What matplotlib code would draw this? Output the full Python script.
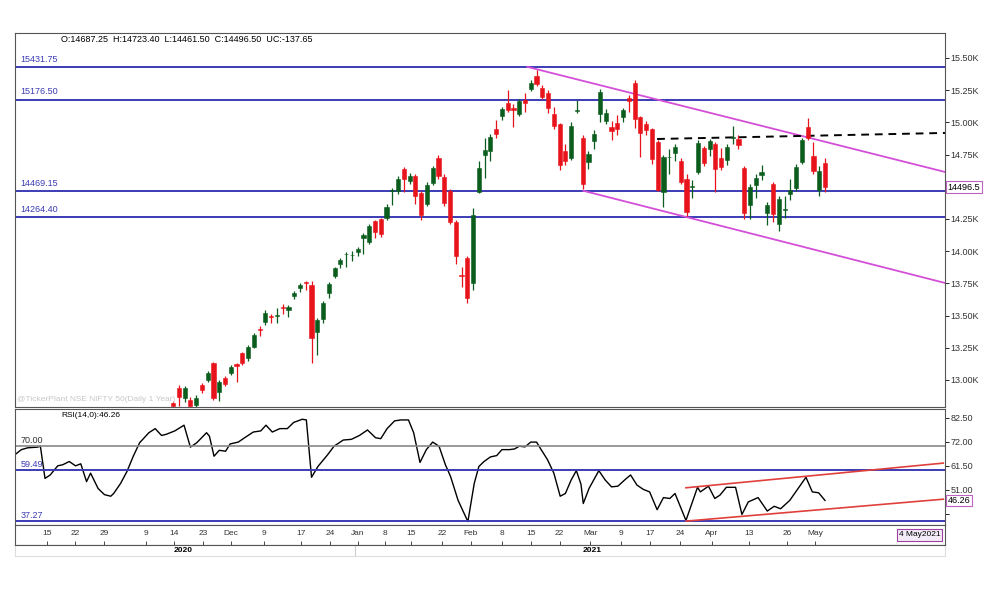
import matplotlib
matplotlib.use("Agg")
import matplotlib.pyplot as plt
import numpy as np

# daily candles, NIFTY 50 (index 0 = first visible candle)
opens = [12820, 12936, 12858, 12845, 12806, 12961, 13000, 13130, 12909, 13013,
         13052, 13122, 13207, 13168, 13259, 13398, 13453, 13497, 13500, 13569,
         13543, 13655, 13712, 13758, 13738, 13375, 13471, 13673, 13807, 13901,
         13975, 13968, 13996, 14100, 14069, 14234, 14248, 14255, 14466, 14470,
         14636, 14547, 14586, 14450, 14366, 14532, 14721, 14578, 14467, 14229,
         13815, 13945, 13751, 14462, 14747, 14780, 14946, 15052, 15148, 15112,
         15063, 15176, 15259, 15363, 15269, 15230, 15065, 14988, 14781, 14721,
         15085, 14877, 14695, 14858, 15063, 15014, 14967, 14993, 15039, 15189,
         15304, 15039, 14988, 14946, 14846, 14462, 14728, 14760, 14700, 14561,
         14498, 14617, 14799, 14791, 14830, 14726, 14708, 14875, 14869, 14644,
         14359, 14514, 14592, 14294, 14519, 14209, 14320, 14442, 14488, 14695,
         14967, 14739, 14475, 14687.25]
closes = [12795, 12870, 12936, 12795, 12858, 12922, 13052, 12858, 12987, 12969,
          13104, 13110, 13130, 13259, 13350, 13390, 13522, 13487, 13508, 13557,
          13564, 13678, 13738, 13751, 13323, 13466, 13595, 13745, 13867, 13932,
          13980, 13974, 14015, 14126, 14196, 14147, 14133, 14341, 14474, 14558,
          14558, 14586, 14431, 14281, 14514, 14644, 14586, 14372, 14229, 13963,
          13805, 13634, 14281, 14644, 14786, 14889, 14910, 15104, 15096, 15096,
          15169, 15153, 15304, 15298, 15200, 15109, 14972, 14669, 14703, 14972,
          15093, 14519, 14755, 14910, 15234, 15071, 14933, 14946, 15096, 15169,
          15024, 14920, 14941, 14714, 14475, 14734, 14734, 14807, 14540, 14302,
          14505, 14838, 14683, 14858, 14638, 14651, 14812, 14885, 14825, 14300,
          14501, 14571, 14613, 14359, 14289, 14403, 14330, 14475, 14656, 14863,
          14877, 14623, 14625, 14496.5]
highs = [12835, 12960, 12950, 12870, 12885, 12975, 13070, 13142, 13000, 13030,
         13118, 13130, 13220, 13272, 13362, 13420, 13540, 13515, 13560, 13590,
         13580, 13690, 13755, 13770, 13771, 13480, 13610, 13760, 13880, 13950,
         13995, 14000, 14030, 14140, 14210, 14245, 14260, 14365, 14490, 14580,
         14650, 14610, 14600, 14470, 14540, 14660, 14745, 14600, 14480, 14240,
         13880, 13960, 14333, 14700, 14880, 14910, 15019, 15120, 15252, 15140,
         15180, 15230, 15330, 15407, 15290, 15250, 15120, 14995, 14830, 15000,
         15170, 14900, 14775, 14940, 15260, 15100, 15010, 15060, 15115, 15210,
         15329, 15050, 15010, 14960, 14860, 14750, 14790, 14830, 14720, 14600,
         14550, 14860, 14820, 14870, 14850, 14800, 14830, 14970, 14900, 14660,
         14520, 14600, 14670, 14380, 14540, 14430, 14430, 14560, 14675, 14880,
         15034, 14850, 14660, 14723.4]
lows = [12780, 12795, 12830, 12780, 12790, 12897, 12985, 12845, 12840, 12950,
        13035, 12985, 13115, 13150, 13245, 13340, 13430, 13440, 13440, 13510,
        13490, 13630, 13680, 13700, 13132, 13194, 13440, 13640, 13790, 13870,
        13880, 13925, 13965, 13980, 14055, 14100, 14110, 14240, 14360, 14440,
        14460, 14520, 14370, 14245, 14350, 14510, 14560, 14350, 14210, 13900,
        13720, 13600, 13700, 14450, 14570, 14700, 14880, 15020, 15080, 14967,
        15050, 15080, 15240, 15280, 15180, 15070, 14950, 14630, 14670, 14710,
        15070, 14480, 14640, 14790, 15000, 14990, 14860, 14900, 15000, 15080,
        14960, 14735, 14900, 14680, 14470, 14345, 14600, 14700, 14520, 14270,
        14410, 14600, 14660, 14740, 14460, 14630, 14670, 14830, 14790, 14250,
        14250, 14410, 14550, 14200, 14230, 14160, 14260, 14400, 14470, 14680,
        14860, 14600, 14430, 14461.5]

# RSI(14) readings: day index and value
rsi_day = [-27.4, -26.3, -25.2, -23.5, -23.0, -22.2, -21.3, -20.0, -19.1, -18.0,
           -16.9, -16.0, -15.0, -14.3, -13.0, -11.9, -10.8, -10.3, -9.1, -8.0,
           -6.9, -5.8, -4.2, -3.1, -2.0, -1.2, 0.3, 1.9, 3.0, 4.1,
           5.8, 6.3, 7.1, 8.0, 9.1, 9.9, 11.3, 12.4, 13.9, 15.2,
           16.1, 17.2, 18.5, 19.8, 20.9, 22.4, 23.1, 24.0, 25.1, 26.8,
           27.9, 29.5, 30.9, 32.3, 33.7, 35.1, 36.0, 37.1, 38.4, 39.5,
           40.8, 41.7, 42.8, 43.9, 45.0, 46.1, 47.2, 48.1, 49.4, 51.1,
           52.2, 53.0, 53.9, 55.0, 56.1, 57.0, 58.3, 59.2, 60.0, 61.0,
           62.0, 63.0, 63.8, 64.9, 66.0, 67.1, 68.0, 69.0, 69.9, 70.7,
           71.1, 72.1, 73.8, 74.9, 76.0, 77.1, 78.4, 79.3, 80.4, 81.5,
           82.6, 83.9, 85.0, 86.1, 87.0, 88.9, 90.9, 91.4, 92.8, 93.9,
           94.8, 95.9, 97.5, 98.6, 99.7, 101.4, 103.0, 104.2, 105.3, 106.9,
           109.7, 110.8, 111.9, 113.0]
rsi_val = [66.3, 68.5, 69.3, 69.6, 70.0, 55.9, 57.4, 61.4, 61.9, 63.3,
           61.4, 62.3, 54.5, 58.2, 51.5, 48.8, 48.1, 49.3, 53.7, 58.9,
           65.6, 71.5, 75.9, 77.7, 74.7, 75.2, 76.7, 79.2, 69.6, 71.5,
           75.9, 74.4, 65.6, 68.2, 67.8, 71.0, 71.8, 73.7, 76.2, 76.7,
           79.2, 76.2, 77.7, 77.7, 80.4, 81.8, 81.5, 56.4, 61.1, 66.3,
           70.0, 72.7, 73.0, 74.7, 77.1, 73.7, 73.3, 77.7, 81.1, 81.5,
           81.5, 75.9, 62.9, 68.5, 71.8, 70.0, 61.9, 56.7, 46.3, 37.0,
           53.7, 61.1, 63.3, 65.3, 65.9, 68.5, 68.5, 68.8, 70.0, 69.7,
           71.8, 71.8, 68.5, 64.1, 58.2, 48.1, 49.3, 55.2, 59.3, 53.4,
           44.9, 51.5, 59.3, 55.2, 52.2, 52.5, 55.5, 57.4, 53.0, 51.1,
           50.0, 42.2, 47.5, 47.1, 49.3, 37.5, 52.0, 50.0, 52.5, 47.1,
           48.6, 52.0, 52.0, 40.1, 45.6, 47.5, 41.6, 43.7, 42.6, 46.3,
           56.4, 50.0, 49.6, 46.26]

price_levels = [15431.75, 15176.50, 14469.15, 14264.40]
rsi_levels = [59.49, 37.27]
upper_channel = ([61.4, 133.8], [15431, 14615])
lower_channel = ([71.1, 133.8], [14469, 13753])
neck_line = ([83.9, 133.8], [14871, 14918])
rsi_upper = ([88.9, 133.5], [51.8, 62.6])
rsi_lower = ([88.9, 133.5], [37.2, 46.8])

tick_pos = [-21.8, -17.0, -12.0, -4.7, 0.2, 5.2, 10.0, 15.8, 22.2, 27.2, 32.0, 36.7, 41.2,
            46.6, 51.6, 57.0, 62.0, 67.0, 72.3, 77.6, 82.7, 87.9, 93.4, 99.8, 106.4, 111.3]
tick_labels = ["15", "22", "29", "9", "14", "23", "Dec", "9", "17", "24", "Jan", "8", "15",
               "22", "Feb", "8", "15", "22", "Mar", "9", "17", "24", "Apr", "13", "26", "May"]
price_ticks = [13000, 13250, 13500, 13750, 14000, 14250, 14500, 14750, 15000, 15250, 15500]
rsi_ticks = [82.5, 72.0, 61.5, 51.0, 40.5]

XMIN, XMAX = -27.4, 133.8
BLUE = "#3b3bb5"
MAGENTA = "#d44fd8"
UP = "#0b5d1e"
DOWN = "#e8141c"

plt.rcParams["font.family"] = ["Liberation Sans", "DejaVu Sans"]
fig = plt.figure(figsize=(10, 6), dpi=100)
ax = fig.add_axes([0.015, 0.3217, 0.93, 0.6233])
ax_rsi = fig.add_axes([0.015, 0.125, 0.93, 0.193])
ax_date = fig.add_axes([0.015, 0.0917, 0.93, 0.0333])
ax_year = fig.add_axes([0.015, 0.0733, 0.93, 0.0184])

# --- price panel ---
idx = np.arange(len(opens))
o = np.array(opens); c = np.array(closes)
colors = np.where(c >= o, UP, DOWN)
ax.vlines(idx, lows, highs, colors=colors, linewidth=0.9, zorder=3)
ax.bar(idx, np.maximum(np.abs(c - o), 6), bottom=np.minimum(o, c), width=0.72,
       color=colors, edgecolor=colors, linewidth=0.4, zorder=4)
for lv in price_levels:
    ax.axhline(lv, color=BLUE, linewidth=1.4, zorder=2)
    ax.text(XMIN + 1, lv + 25, f"{lv:.2f}", color=BLUE, fontsize=6.5, va="bottom")
ax.plot(*upper_channel, color=MAGENTA, linewidth=1.3, zorder=2)
ax.plot(*lower_channel, color=MAGENTA, linewidth=1.3, zorder=2)
ax.plot(*neck_line, color="black", linewidth=1.4, linestyle=(0, (4, 3)), zorder=2)
ax.set_xlim(XMIN, XMAX)
ax.set_ylim(12790, 15694)
ax.set_xticks([])
ax.yaxis.tick_right()
ax.set_yticks(price_ticks)
# 14.50K label sits under the last-price box, as on the terminal
ax.set_yticklabels(["" if t == 14500 else f"{t / 1000:.2f}K" for t in price_ticks],
                   fontsize=6.5, color="#333333")
ax.tick_params(axis="y", length=3, width=0.6, pad=1)
ax.text(XMIN + 8, 15640, "O:14687.25  H:14723.40  L:14461.50  C:14496.50  UC:-137.65",
        fontsize=6.5, va="center")
ax.text(XMIN + 0.3, 12850, "@TickerPlant NSE NIFTY 50(Daily 1 Year)", fontsize=6,
        color="#c8c8c8", va="center")
ax.text(1.003, (14496.5 - 12790) / (15694 - 12790), "14496.5", transform=ax.transAxes,
        fontsize=6.5, va="center", ha="left",
        bbox=dict(boxstyle="square,pad=0.15", fc="white", ec="#c060c0", lw=0.8))

# --- RSI panel ---
ax_rsi.plot(rsi_day, rsi_val, color="black", linewidth=1.0)
ax_rsi.axhline(70, color="#888888", linewidth=1.2)
ax_rsi.text(XMIN + 1, 70.6, "70.00", color="#333333", fontsize=6.5, va="bottom")
for lv in rsi_levels:
    ax_rsi.axhline(lv, color=BLUE, linewidth=1.4)
    ax_rsi.text(XMIN + 1, lv + 0.6, f"{lv:.2f}", color=BLUE, fontsize=6.5, va="bottom")
ax_rsi.plot(*rsi_upper, color="#e0403c", linewidth=1.2)
ax_rsi.plot(*rsi_lower, color="#e0403c", linewidth=1.2)
ax_rsi.set_xlim(XMIN, XMAX)
ax_rsi.set_ylim(35.5, 86.2)
ax_rsi.set_xticks([])
ax_rsi.yaxis.tick_right()
ax_rsi.set_yticks(rsi_ticks)
ax_rsi.set_yticklabels(["" if t == 40.5 else f"{t:.2f}" for t in rsi_ticks],
                       fontsize=6.5, color="#333333")
ax_rsi.tick_params(axis="y", length=3, width=0.6, pad=1)
ax_rsi.text(XMIN + 8, 83.5, "RSI(14,0):46.26", fontsize=6, va="center")
ax_rsi.text(1.003, (46.26 - 35.5) / (86.2 - 35.5), "46.26", transform=ax_rsi.transAxes,
            fontsize=6.5, va="center", ha="left",
            bbox=dict(boxstyle="square,pad=0.15", fc="white", ec="#c060c0", lw=0.8))

# --- date strip ---
ax_date.set_xlim(XMIN, XMAX)
ax_date.set_ylim(0, 1)
ax_date.set_yticks([])
ax_date.set_xticks(tick_pos)
ax_date.set_xticklabels(tick_labels, fontsize=6, color="#333333")
ax_date.tick_params(axis="x", direction="in", pad=-11, length=3, width=0.5)
ax_date.text(0.995, 0.5, "4 May2021", transform=ax_date.transAxes, fontsize=6,
             ha="right", va="center",
             bbox=dict(boxstyle="square,pad=0.25", fc="#f4ecf8", ec="#a040a0", lw=0.8))

ax_year.set_xlim(XMIN, XMAX)
ax_year.set_ylim(0, 1)
ax_year.set_xticks([])
ax_year.set_yticks([])
ax_year.axvline(31.5, color="#cccccc", linewidth=0.8)
ax_year.text(1.7, 0.5, "2020", fontsize=6, ha="center", va="center", fontweight="bold")
ax_year.text(72.6, 0.5, "2021", fontsize=6, ha="center", va="center", fontweight="bold")

for a in (ax, ax_rsi, ax_date, ax_year):
    for s in a.spines.values():
        s.set_color("#555555")
        s.set_linewidth(0.8)
for s in ("left", "right", "bottom"):
    ax_year.spines[s].set_color("#dddddd")

fig.savefig("out.png", dpi=100)
